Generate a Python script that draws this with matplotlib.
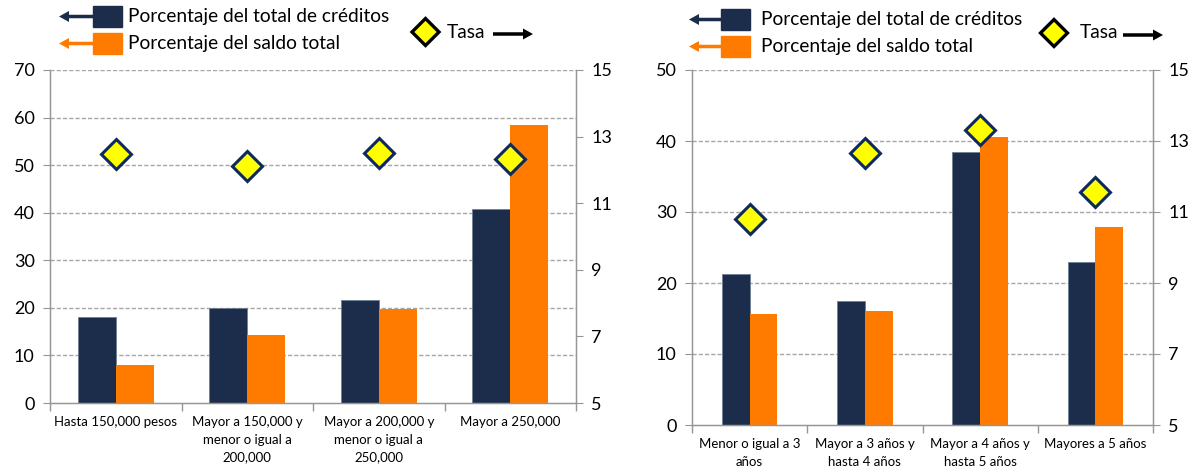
import matplotlib
matplotlib.use("Agg")
import matplotlib.pyplot as plt
import numpy as np
from matplotlib.patches import Rectangle, Polygon, FancyArrow

plt.rcParams['font.family'] = ['Lato', 'DejaVu Sans']

# ---------------- data ----------------
cats_left = ["Hasta 150,000 pesos", "Mayor a 150,000 y\nmenor o igual a\n200,000",
             "Mayor a 200,000 y\nmenor o igual a\n250,000", "Mayor a 250,000"]
creditos_left = [18.0, 20.0, 21.7, 40.7]
saldo_left = [8.0, 14.2, 19.7, 58.5]
tasa_left = [12.47, 12.13, 12.51, 12.33]

cats_right = ["Menor o igual a 3\naños", "Mayor a 3 años y\nhasta 4 años",
              "Mayor a 4 años y\nhasta 5 años", "Mayores a 5 años"]
creditos_right = [21.3, 17.5, 38.5, 22.9]
saldo_right = [15.7, 16.0, 40.6, 27.9]
tasa_right = [10.8, 12.65, 13.3, 11.56]

legend_creditos = "Porcentaje del total de créditos"
legend_saldo = "Porcentaje del saldo total"
legend_tasa = "Tasa"

NAVY = "#1B2D4A"
ORANGE = "#FF7B00"
GRID = "#A6A6A6"
SPINE = "#969696"

W, H = 1199, 473
fig = plt.figure(figsize=(W / 100, H / 100), dpi=100)


def px(x0, y0, x1, y1):
    return [x0 / W, 1 - y1 / H, (x1 - x0) / W, (y1 - y0) / H]


def make_panel(rect, cats, cred, sald, tasa, ymax, ystep, barw):
    ax = fig.add_axes(rect)
    n = len(cats)
    x = np.arange(n)
    ax.bar(x - barw / 2, cred, width=barw, color=NAVY, edgecolor="#6F7F95",
           linewidth=0.6, zorder=2)
    ax.bar(x + barw / 2, sald, width=barw, color=ORANGE, edgecolor="none", zorder=2)
    ax.set_xlim(-0.5, n - 0.5)
    ax.set_ylim(0, ymax)
    ax.set_yticks(np.arange(0, ymax + 0.1, ystep))
    for yv in np.arange(ystep, ymax + 0.1, ystep):
        ax.axhline(yv, color=GRID, linewidth=1.0, linestyle=(0, (3, 1.5)), zorder=1)
    ax.set_xticks(x)
    ax.set_xticklabels(cats, fontsize=9.5, linespacing=1.6)
    ax.tick_params(axis='x', which='major', length=0, pad=9)
    ax.set_xticks(np.arange(-0.5, n, 1.0), minor=True)
    ax.tick_params(axis='x', which='minor', length=6, color=SPINE, width=1)
    ax.tick_params(axis='y', length=5, color=SPINE, labelsize=13, pad=6)
    ax.spines['top'].set_visible(False)
    for s in ['left', 'bottom', 'right']:
        ax.spines[s].set_color(SPINE)
        ax.spines[s].set_linewidth(1.0)

    ax2 = ax.twinx()
    ax2.set_ylim(5, 15)
    ax2.set_yticks(np.arange(5, 15.1, 2))
    ax2.plot(x, tasa, linestyle='none', marker='D', markersize=15,
             markerfacecolor="#FFFF00", markeredgecolor="#0E2A5C",
             markeredgewidth=2.2, zorder=5, clip_on=False)
    ax2.tick_params(axis='y', length=5, color=SPINE, labelsize=13, pad=6)
    ax2.spines['top'].set_visible(False)
    for s in ['left', 'bottom', 'right']:
        ax2.spines[s].set_color(SPINE)
    return ax, ax2


make_panel(px(50, 70, 576, 403), cats_left, creditos_left, saldo_left, tasa_left,
           70, 10, 0.29)
make_panel(px(692, 70, 1153, 425), cats_right, creditos_right, saldo_right, tasa_right,
           50, 10, 0.24)

# ---------------- custom legends (pixel overlay) ----------------
ov = fig.add_axes([0, 0, 1, 1], zorder=10)
ov.set_xlim(0, W)
ov.set_ylim(H, 0)
ov.axis('off')

LFS = 13.8


def h_arrow(x_start, x_tip, y, color):
    ov.add_patch(FancyArrow(x_start, y, x_tip - x_start, 0, width=3.5, head_width=11,
                            head_length=10, length_includes_head=True,
                            color=color, linewidth=0))


def legend_block(x_arrow, x_sq, x_text, y1, y2, x_dia, y_dia, x_tasa, x_arr2, x_arr2_end):
    # row 1
    h_arrow(x_sq, x_arrow, y1 + 10.5, NAVY)
    ov.add_patch(Rectangle((x_sq, y1), 29, 21, color=NAVY))
    ov.text(x_text, y1 + 10.5, legend_creditos, fontsize=LFS, va='center', ha='left')
    # row 2
    h_arrow(x_sq, x_arrow, y2 + 10.5, ORANGE)
    ov.add_patch(Rectangle((x_sq, y2), 29, 21, color=ORANGE))
    ov.text(x_text, y2 + 10.5, legend_saldo, fontsize=LFS, va='center', ha='left')
    # tasa
    cx, cy, r = x_dia, y_dia, 13.5
    ov.add_patch(Polygon([[cx, cy - r], [cx + r, cy], [cx, cy + r], [cx - r, cy]],
                         closed=True, facecolor="#FFFF00", edgecolor="black",
                         linewidth=2.4))
    ov.text(x_tasa, y_dia, legend_tasa, fontsize=LFS, va='center', ha='left')
    h_arrow(x_arr2, x_arr2_end, y_dia + 2, "black")


legend_block(59, 93, 128, 6, 33, 425.5, 32, 447, 493, 533)
legend_block(689, 721, 761, 9, 36, 1054, 33, 1080, 1123, 1163)

fig.savefig("out.png", dpi=100)
